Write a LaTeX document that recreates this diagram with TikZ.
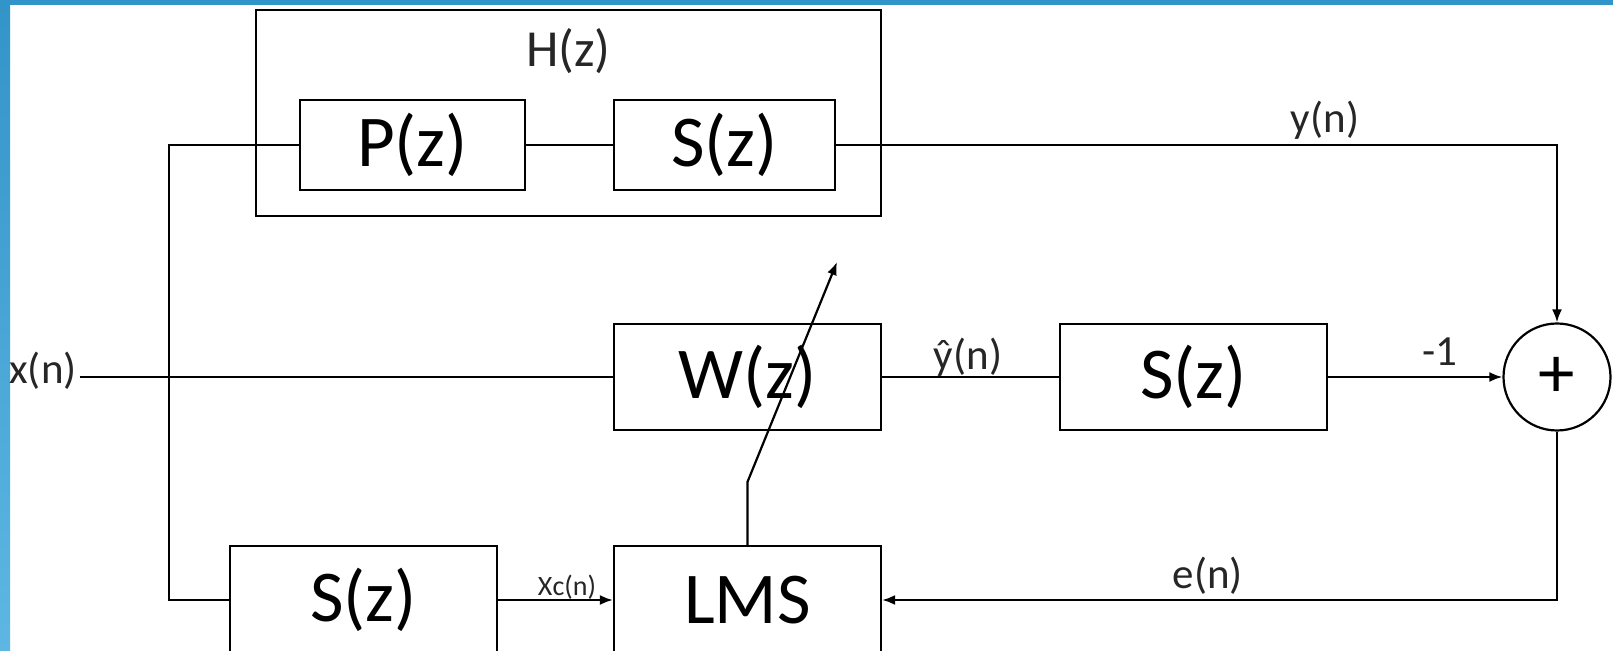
\documentclass[tikz,border=0pt]{standalone}
\usepackage{fontspec}
\setmainfont{Carlito}
\usepackage{xcolor}
\usetikzlibrary{arrows.meta}
\definecolor{slideblue}{HTML}{3394C9}
\definecolor{slidelight}{HTML}{5DB7E2}

\begin{document}
\begin{tikzpicture}[x=0.5pt, y=-0.5pt, line width=1.1pt,
  block/.style={draw, minimum width=133.5pt, minimum height=53pt, inner sep=0pt, font=\fontsize{36.5}{40}\selectfont},
  sig/.style={font=\fontsize{21.5}{24}\selectfont, text=black!85},
  arr/.style={-{Latex[length=6.5pt,width=5pt]}}]
\useasboundingbox (0,0) rectangle (1613,651);
\fill[white] (0,0) rectangle (1613,651);
\shade[top color=slideblue, bottom color=slidelight] (0,0) rectangle (10,651);
\fill[slideblue] (0,0) rectangle (1613,5);

\node[draw, minimum width=312.5pt, minimum height=103pt] (H) at (568.5,113) {};
\node[font=\fontsize{26}{30}\selectfont, text=black!85] (Hlbl) at (568.5,51) {H(z)};
\node[block, minimum width=112.5pt, minimum height=45pt] (P) at (412.5,145) {P(z)};
\node[block, minimum width=110.5pt, minimum height=45pt] (St) at (724.5,145) {S(z)};
\node[block] (W) at (747.5,377) {W(z)};
\node[block] (Sm) at (1193.5,377) {S(z)};
\node[block, minimum height=54pt] (Sb) at (363.5,600) {S(z)};
\node[block, minimum height=54pt] (LMS) at (747.5,600) {LMS};
\node[draw, circle, minimum size=53.5pt, inner sep=0pt, font=\fontsize{36.5}{40}\selectfont] (sum) at (1557,377) {+};

\node[sig, inner xsep=1pt] (xn) at (43,371) {x(n)};
\node[sig] (yn) at (1325,120) {y(n)};
\node[sig] (yhat) at (968,357) {ŷ(n)};
\node[sig] (m1) at (1440,352) {-1};
\node[sig] (en) at (1208,576) {e(n)};
\node[sig, font=\fontsize{14}{16}\selectfont] (xc) at (567,587) {Xc(n)};

\coordinate (tap) at (169,377);
\coordinate (tip) at (837,262);
\draw (P.west) -| (tap) |- (Sb.west);
\draw (W.west -| xn.east) -- (W.west);
\draw (P.east) -- (St.west);
\draw[arr] (St.east) -| (sum.north);
\draw (W.east) -- (Sm.west);
\draw[arr] (Sm.east) -- (sum.west);
\draw[arr] (sum.south) |- (LMS.east);
\draw[arr] (Sb.east) -- (LMS.west);
\draw[arr] (LMS.north) -- ++(0,-63) -- (tip);
\end{tikzpicture}
\end{document}
